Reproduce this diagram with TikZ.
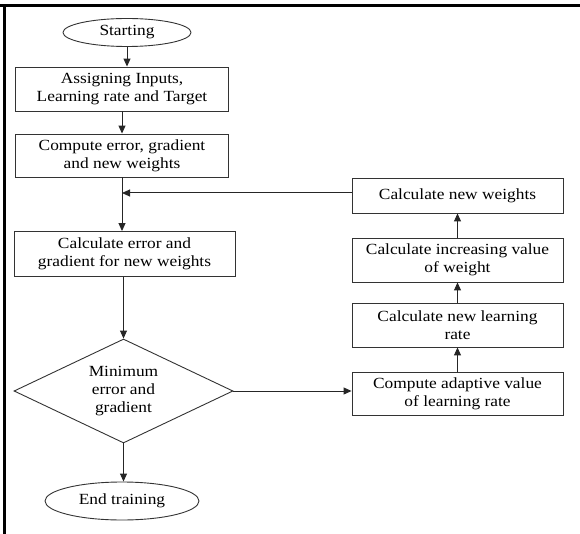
\documentclass[tikz,border=0pt]{standalone}
\usepackage{fontspec}
\setmainfont[FakeStretch=1.12]{Liberation Serif}
\usetikzlibrary{shapes.geometric,arrows.meta}
\begin{document}
\begin{tikzpicture}[x=1pt,y=-1pt,
  every node/.style={font=\fontsize{15.5}{18}\selectfont, align=center, inner sep=0pt},
  box/.style={draw=black!80, line width=0.9pt, rectangle},
  oval/.style={draw=black!80, line width=0.9pt, ellipse},
  dec/.style={draw=black!80, line width=0.9pt, diamond, aspect=2.1},
  arr/.style={draw=black!85, line width=1pt, -{Triangle[length=8pt,width=7pt]}},
  ln/.style={draw=black!85, line width=1pt},
  frame/.style={line width=3pt, black}]
\useasboundingbox (0,0) rectangle (580,534);
\draw[frame] (0,6) -- (580,6);
\draw[frame] (4,4.5) -- (4,534);

\node[oval, minimum width=128, minimum height=28] (start) at (127,32.5) {Starting};
\node[box, minimum width=213, minimum height=44] (b1) at (122,89) {Assigning Inputs,\\Learning rate and Target};
\node[box, minimum width=213, minimum height=43] (b2) at (122,155.5) {Compute error, gradient\\and new weights};
\node[box, minimum width=221, minimum height=45] (b3) at (124.5,254) {Calculate error and\\gradient for new weights};
\node[dec, minimum width=219, minimum height=104] (dia) at (123.5,391) {Minimum\\error and\\gradient};
\node[oval, minimum width=154, minimum height=38] (end) at (122,501) {End training};

\node[box, minimum width=211, minimum height=35] (r1) at (457.5,195.5) {Calculate new weights};
\node[box, minimum width=211, minimum height=44] (r2) at (457.5,260) {Calculate increasing value\\of weight};
\node[box, minimum width=211, minimum height=44] (r3) at (457.5,325) {Calculate new learning\\rate};
\node[box, minimum width=211, minimum height=43] (r4) at (457.5,394) {Compute adaptive value\\of learning rate};

\draw[arr] (start.south) -- (start.south |- b1.north);
\draw[arr] (b1.south) -- (b1.south |- b2.north);
\draw[arr] (b2.south) -- (b2.south |- b3.north);
\draw[arr] (b3.south -| dia.north) -- (dia.north);
\draw[arr] (dia.south) -- (dia.south |- end.north);
\draw[arr] (dia.east) -- (dia.east -| r4.west);
\draw[arr] (r4.north) -- (r3.south);
\draw[arr] (r3.north) -- (r2.south);
\draw[arr] (r2.north) -- (r1.south);
\draw[arr] ([yshift=2.5pt]r1.west) -- ([yshift=2.5pt]r1.west -| b2.south);
\end{tikzpicture}
\end{document}
